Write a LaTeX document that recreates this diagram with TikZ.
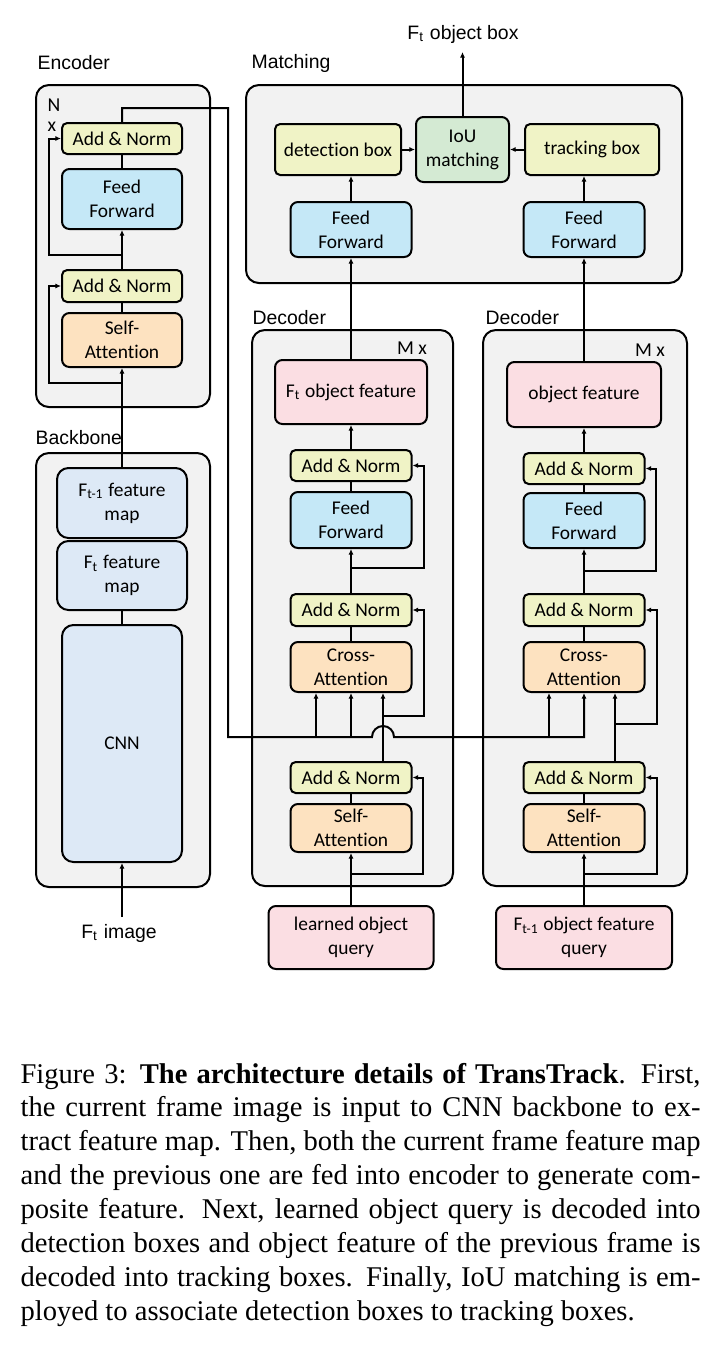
\documentclass[tikz,border=0pt]{standalone}
\usepackage{fontspec}
\setmainfont{Liberation Serif}
\newfontfamily\calfont[Ligatures=NoCommon]{Carlito}
\newfontfamily\arialfont{Liberation Sans}
\usetikzlibrary{arrows.meta}
\definecolor{anfill}{RGB}{240,243,198}
\definecolor{fffill}{RGB}{197,232,247}
\definecolor{safill}{RGB}{253,226,192}
\definecolor{pkfill}{RGB}{251,222,227}
\definecolor{ioufill}{RGB}{212,234,211}
\definecolor{bbfill}{RGB}{221,233,246}
\definecolor{contfill}{RGB}{242,242,242}
\newcommand\mybox[7]{\node[#1, minimum width={(#5-#3)*0.35pt}, minimum height={(#6-#4)*0.35pt}] (#2) at ({(#3+#5)/2},{(#4+#6)/2}) {#7};}
\tikzset{
  box/.style={draw=black, line width=0.7pt, rounded corners=2.6pt, inner sep=0pt, align=center, font=\calfont\fontsize{6.8}{8.4}\selectfont},
  an/.style={box, fill=anfill, rounded corners=1.8pt},
  ffb/.style={box, fill=fffill},
  sab/.style={box, fill=safill},
  pkb/.style={box, fill=pkfill},
  ioub/.style={box, fill=ioufill},
  bbb/.style={box, fill=bbfill, rounded corners=4pt},
  cont/.style={draw=black, fill=contfill, line width=0.7pt, rounded corners=4.5pt, inner sep=0pt},
  lbl/.style={font=\arialfont\fontsize{6.8}{8}\selectfont, inner sep=0pt},
  rep/.style={font=\calfont\fontsize{6.9}{8}\selectfont, inner sep=0pt},
  ln/.style={line width=0.7pt},
  arr/.style={line width=0.7pt, -{Latex[length=2pt,width=1.8pt]}},
}
\begin{document}
\begin{tikzpicture}[x=0.35pt, y=-0.35pt]
\useasboundingbox (0,0) rectangle (720,1348);
% containers
\mybox{cont}{encC}{36}{85}{210}{407}{}
\mybox{cont}{bbC}{36}{453}{210}{887}{}
\mybox{cont}{matC}{246}{85}{682}{283}{}
\mybox{cont}{dec1C}{252}{330}{453}{886}{}
\mybox{cont}{dec2C}{483}{330}{687}{886}{}
% labels
\node[lbl, anchor=west] (lenc) at (37,63) {Encoder};
\node[lbl, anchor=west] (lmat) at (251,63) {Matching};
\node[lbl, anchor=west] (lbb) at (35,438) {Backbone};
\node[lbl, anchor=west] (ldec1) at (252,318) {Decoder};
\node[lbl, anchor=west] (ldec2) at (485,318) {Decoder};
\node[lbl] (lout) at (463,34) {F\textsubscript{t} object box};
\node[lbl] (limg) at (119,933) {F\textsubscript{t} image};
\node[rep] (nN) at (54,105) {N};
\node[rep] (nx) at (52,127) {x};
\node[rep] (m1x) at (412,348) {M x};
\node[rep] (m2x) at (650,350) {M x};
% encoder
\mybox{an}{enc_an2}{62}{123}{182}{154}{Add \& Norm}
\mybox{ffb}{enc_ff}{62}{169}{182}{229}{Feed\\Forward}
\mybox{an}{enc_an1}{62}{270}{182}{302}{Add \& Norm}
\mybox{sab}{enc_sa}{62}{313}{182}{367}{Self-\\Attention}
% backbone
\mybox{bbb}{bb_t1}{57}{468}{187}{538}{F\textsubscript{t-1} feature\\map}
\mybox{bbb}{bb_t}{57}{541}{187}{610}{F\textsubscript{t} feature\\map}
\mybox{bbb}{cnn}{62}{625}{182}{862}{CNN}
% matching
\mybox{an}{det}{275}{124}{401}{175}{detection box}
\mybox{ioub}{iou}{416}{117}{509}{182}{IoU\\matching}
\mybox{an}{trk}{525}{124}{659}{175}{tracking box}
\mybox{ffb}{mffL}{290.5}{202}{411.5}{257}{Feed\\Forward}
\mybox{ffb}{mffR}{523.5}{202}{644.5}{257}{Feed\\Forward}
% decoder 1
\mybox{pkb}{d1_of}{275}{360}{427}{424}{F\textsubscript{t} object feature}
\mybox{an}{d1_anU}{290.5}{450}{411.5}{481}{Add \& Norm}
\mybox{ffb}{d1_ff}{290.5}{492}{411.5}{548}{Feed\\Forward}
\mybox{an}{d1_anM}{290.5}{594}{411.5}{626}{Add \& Norm}
\mybox{sab}{d1_ca}{290.5}{642}{411.5}{692}{Cross-\\Attention}
\mybox{an}{d1_anL}{290.5}{762}{411.5}{793}{Add \& Norm}
\mybox{sab}{d1_sa}{290.5}{804}{411.5}{852}{Self-\\Attention}
\mybox{pkb}{q1}{268.5}{906}{433.5}{969}{learned object\\query}
% decoder 2
\mybox{pkb}{d2_of}{507}{362}{661}{427}{object feature}
\mybox{an}{d2_anU}{523.5}{453}{644.5}{484}{Add \& Norm}
\mybox{ffb}{d2_ff}{523.5}{493}{644.5}{548}{Feed\\Forward}
\mybox{an}{d2_anM}{523.5}{594}{644.5}{626}{Add \& Norm}
\mybox{sab}{d2_ca}{523.5}{642}{644.5}{692}{Cross-\\Attention}
\mybox{an}{d2_anL}{523.5}{762}{644.5}{793}{Add \& Norm}
\mybox{sab}{d2_sa}{523.5}{804}{644.5}{852}{Self-\\Attention}
\mybox{pkb}{q2}{496}{906}{672}{969}{F\textsubscript{t-1} object feature\\query}
% encoder connectors
\draw[arr] (bb_t1.north) -- (enc_sa.south);
\draw[ln] (enc_sa.north) -- (enc_an1.south);
\draw[arr] (enc_an1.north) -- (enc_ff.south);
\draw[ln] (enc_ff.north) -- (enc_an2.south);
\coordinate (er1) at (122,383);
\draw[arr] (er1) -- (49,383) |- (enc_an1.west);
\coordinate (er2) at (122,255);
\draw[arr] (er2) -- (49,255) |- (enc_an2.west);
% backbone connectors
\draw[ln] (bb_t.south) -- (cnn.north);
\coordinate (img) at (122,917);
\draw[arr] (img) -- (cnn.south);
% memory line
\coordinate (m1) at (228,108);
\coordinate (m2) at (228,737);
\coordinate (hop) at (383,737);
\coordinate (m3) at (584,737);
\draw[arr] (enc_an2.north) |- (m1) -- (m2) -- ([xshift=-3.85pt]hop) arc[start angle=180, end angle=0, radius=3.85pt] -- (m3) -- (d2_ca.south);
\coordinate (c1) at (316,737);
\coordinate (c2) at (351,737);
\coordinate (c4) at (549,737);
\draw[arr] (c1) -- (c1 |- d1_ca.south);
\draw[arr] (c2) -- (d1_ca.south);
\draw[arr] (c4) -- (c4 |- d2_ca.south);
% decoder 1 connectors
\draw[arr] (q1.north) -- (d1_sa.south);
\coordinate (r1a) at (351,874);
\draw[arr] (r1a) -- (423,874) |- (d1_anL.east);
\draw[ln] (d1_sa.north) -- (d1_anL.south);
\draw[arr] (d1_anL.north -| hop) -- (d1_ca.south -| hop);
\coordinate (r3) at (383,716);
\draw[arr] (r3) -- (424,716) |- (d1_anM.east);
\draw[ln] (d1_ca.north) -- (d1_anM.south);
\draw[arr] (d1_anM.north) -- (d1_ff.south);
\coordinate (r1b) at (351,568);
\draw[arr] (r1b) -- (424,568) |- (d1_anU.east);
\draw[ln] (d1_ff.north) -- (d1_anU.south);
\draw[arr] (d1_anU.north) -- (d1_of.south);
\draw[arr] (d1_of.north) -- (mffL.south);
% decoder 2 connectors
\draw[arr] (q2.north) -- (d2_sa.south);
\coordinate (r2a) at (584,874);
\draw[arr] (r2a) -- (657,874) |- (d2_anL.east);
\draw[ln] (d2_sa.north) -- (d2_anL.south);
\coordinate (c6) at (615,737);
\draw[arr] (d2_anL.north -| c6) -- (d2_ca.south -| c6);
\coordinate (r6) at (615,724);
\draw[arr] (r6) -- (657,724) |- (d2_anM.east);
\draw[ln] (d2_ca.north) -- (d2_anM.south);
\draw[arr] (d2_anM.north) -- (d2_ff.south);
\coordinate (r2b) at (584,571);
\draw[arr] (r2b) -- (656,571) |- (d2_anU.east);
\draw[ln] (d2_ff.north) -- (d2_anU.south);
\draw[arr] (d2_anU.north) -- (d2_of.south);
\draw[arr] (d2_of.north) -- (mffR.south);
% matching connectors
\draw[arr] (mffL.north) -- (mffL.north |- det.south);
\draw[arr] (mffR.north) -- (mffR.north |- trk.south);
\draw[arr] (det.east) -- (iou.west);
\draw[arr] (trk.west) -- (iou.east);
\coordinate (out) at (463,52);
\draw[arr] (iou.north) -- (iou.north |- out);
% caption
\node[anchor=base west, inner sep=0pt] (cap) at (20,1083) {\parbox[t]{238pt}{\fontsize{10}{11.85}\selectfont
\makebox[\linewidth][s]{Figure 3: \textbf{The architecture details of TransTrack}. First,}\par
\makebox[\linewidth][s]{the current frame image is input to CNN backbone to ex-}\par
\makebox[\linewidth][s]{tract feature map. Then, both the current frame feature map}\par
\makebox[\linewidth][s]{and the previous one are fed into encoder to generate com-}\par
\makebox[\linewidth][s]{posite feature. Next, learned object query is decoded into}\par
\makebox[\linewidth][s]{detection boxes and object feature of the previous frame is}\par
\makebox[\linewidth][s]{decoded into tracking boxes. Finally, IoU matching is em-}\par
ployed to associate detection boxes to tracking boxes.}};
\end{tikzpicture}
\end{document}
